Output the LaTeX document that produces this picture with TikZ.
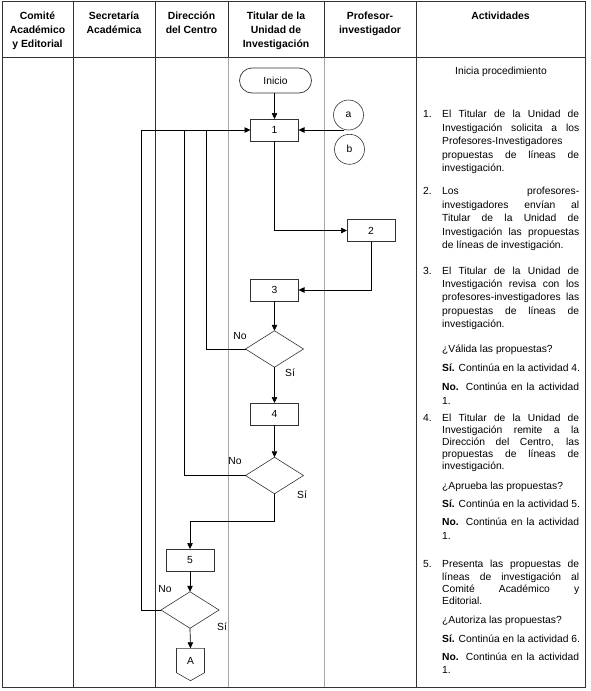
\documentclass[tikz,border=0pt]{standalone}
\usepackage{fontspec}
\setmainfont{Liberation Sans}
\usetikzlibrary{arrows.meta,shapes.geometric}
\newcommand\actl[5]{\node[actline] (#1) at (#2,#3) {\makebox[137pt][#4]{#5}};}
\begin{document}
\begin{tikzpicture}[x=1pt,y=-1pt,
  every node/.style={font=\fontsize{10.3}{12.5}\selectfont},
  grid/.style={draw=black!80,line width=0.8pt},
  lane/.style={draw=black!35,line width=0.8pt},
  hdr/.style={align=center,font=\fontsize{10.4}{14}\selectfont\bfseries,anchor=north,inner sep=0},
  proc/.style={draw=black!80,line width=0.8pt,minimum width=48pt,minimum height=22pt,inner sep=0,outer sep=0},
  term/.style={draw=black!80,line width=0.7pt,rounded corners=12.5pt,minimum width=72pt,minimum height=25pt,inner sep=0,outer sep=0},
  dec/.style={draw=black!80,line width=0.6pt,diamond,minimum width=58pt,minimum height=36.5pt,inner sep=0,outer sep=0},
  conn/.style={draw=black!80,line width=0.6pt,circle,minimum size=30pt,inner sep=0,outer sep=0},
  flow/.style={draw=black,line width=0.7pt},
  arr/.style={flow,-{Triangle[length=6pt,width=5.5pt]}},
  lbl/.style={inner sep=0},
  actline/.style={anchor=mid west,inner sep=0},
  num/.style={anchor=mid west,inner sep=0},
]
\useasboundingbox (0,0) rectangle (590,691);
% table
\draw[lane] (228,57) -- (228,687);
\draw[lane] (324,57) -- (324,687);
\draw[grid] (2,1) rectangle (585,687);
\draw[grid] (2,57) -- (585,57);
\foreach \xx in {73,155,416} \draw[grid] (\xx,1) -- (\xx,687);
\draw[grid] (228,1) -- (228,57);
\draw[grid] (324,1) -- (324,57);
% headers
\node[hdr] (h1) at (37.5,11.5) {Comité\\Académico\\y Editorial};
\node[hdr] (h2) at (114,11.5) {Secretaría\\Académica};
\node[hdr] (h3) at (191.5,11.5) {Dirección\\del Centro};
\node[hdr] (h4) at (276,11.5) {Titular de la\\Unidad de\\Investigación};
\node[hdr] (h5) at (370,11.5) {Profesor-\\investigador};
\node[hdr] (h6) at (500.5,11.5) {Actividades};
% flowchart
\node[term] (inicio) at (275.5,80.5) {Inicio};
\node[proc] (b1) at (274.5,130) {1};
\node[conn] (ca) at (348.5,115) {a};
\node[conn] (cb) at (349.5,149.3) {b};
\node[proc] (b2) at (371,230.5) {2};
\node[proc] (b3) at (274.5,290) {3};
\node[dec] (d1) at (274.5,349) {};
\node[proc] (b4) at (274.5,414) {4};
\node[dec] (d2) at (274.5,475.5) {};
\node[proc] (b5) at (190,560) {5};
\node[dec] (d3) at (190,610) {};
\node[minimum width=28pt,minimum height=24.4pt,inner sep=0,outer sep=0,anchor=north] (A) at (190.5,648.3) {A};
\draw[draw=black!80,line width=0.6pt] (A.north west) -- (A.north east) -- (A.south east) -- ([yshift=-8pt]A.south) -- (A.south west) -- cycle;
\coordinate (abj) at (344,130);
\coordinate (fb) at (141,130);
\coordinate (j1) at (206,130);
\coordinate (j2) at (184,130);
\coordinate (bend) at (274.5,521.7);
\draw[arr] (b1.north |- inicio.south) -- (b1.north);
\draw[arr] (abj) -- (b1.east);
\draw[arr] (fb) -- (b1.west);
\draw[flow] (d1.west) -| (j1);
\draw[flow] (d2.west) -| (j2);
\draw[flow] (d3.west) -| (fb);
\draw[arr] (b1.south) |- (b2.west);
\draw[arr] (b2.south) |- (b3.east);
\draw[arr] (b3.south) -- (d1.north);
\draw[arr] (d1.south) -- (b4.north);
\draw[arr] (b4.south) -- (d2.north);
\draw[arr] (d2.south) -- (bend) -| (b5.north);
\draw[arr] (b5.south) -- (d3.north);
\draw[arr] (d3.south) -- (A.north);
\node[lbl] (no1) at (240,336) {No};
\node[lbl] (si1) at (290,373) {Sí};
\node[lbl] (no2) at (235,461) {No};
\node[lbl] (si2) at (302,495) {Sí};
\node[lbl] (no3) at (165,589) {No};
\node[lbl] (si3) at (222,627) {Sí};
% activities
\node (ini) at (501,72) {Inicia procedimiento};
\node[num] (n1) at (423,115) {1.};
\actl{a11}{442}{115}{s}{El Titular de la Unidad de}
\actl{a12}{442}{128.5}{s}{Investigación solicita a los}
\actl{a13}{442}{142}{l}{Profesores-Investigadores}
\actl{a14}{442}{155.5}{s}{propuestas de líneas de}
\actl{a15}{442}{169}{l}{investigación.}
\node[num] (n2) at (423,192) {2.};
\actl{a21}{442}{192}{s}{Los profesores-}
\actl{a22}{442}{205.5}{s}{investigadores envían al}
\actl{a23}{442}{219}{s}{Titular de la Unidad de}
\actl{a24}{442}{232.5}{s}{Investigación las propuestas}
\actl{a25}{442}{246}{l}{de líneas de investigación.}
\node[num] (n3) at (423,271.7) {3.};
\actl{a31}{442}{271.7}{s}{El Titular de la Unidad de}
\actl{a32}{442}{285}{s}{Investigación revisa con los}
\actl{a33}{442}{298.3}{s}{profesores-investigadores las}
\actl{a34}{442}{311.6}{s}{propuestas de líneas de}
\actl{a35}{442}{325}{l}{investigación.}
\actl{q3}{442}{350}{l}{¿Válida las propuestas?}
\actl{s3}{442}{369}{l}{\textbf{Sí.} Continúa en la actividad 4.}
\actl{o3}{442}{388}{s}{\textbf{No.} Continúa en la actividad}
\actl{o3b}{442}{401.5}{l}{1.}
\node[num] (n4) at (423,418.5) {4.};
\actl{a41}{442}{418.5}{s}{El Titular de la Unidad de}
\actl{a42}{442}{430.6}{s}{Investigación remite a la}
\actl{a43}{442}{442.7}{s}{Dirección del Centro, las}
\actl{a44}{442}{454.8}{s}{propuestas de líneas de}
\actl{a45}{442}{467}{l}{investigación.}
\actl{q4}{442}{487}{l}{¿Aprueba las propuestas?}
\actl{s4}{442}{505}{l}{\textbf{Sí.} Continúa en la actividad 5.}
\actl{o4}{442}{523}{s}{\textbf{No.} Continúa en la actividad}
\actl{o4b}{442}{536.7}{l}{1.}
\node[num] (n5) at (423,565) {5.};
\actl{a51}{442}{565}{s}{Presenta las propuestas de}
\actl{a52}{442}{577.5}{s}{líneas de investigación al}
\actl{a53}{442}{590}{s}{Comité Académico y}
\actl{a54}{442}{602.3}{l}{Editorial.}
\actl{q5}{442}{621}{l}{¿Autoriza las propuestas?}
\actl{s5}{442}{640}{l}{\textbf{Sí.} Continúa en la actividad 6.}
\actl{o5}{442}{658.3}{s}{\textbf{No.} Continúa en la actividad}
\actl{o5b}{442}{671}{l}{1.}
\end{tikzpicture}
\end{document}
